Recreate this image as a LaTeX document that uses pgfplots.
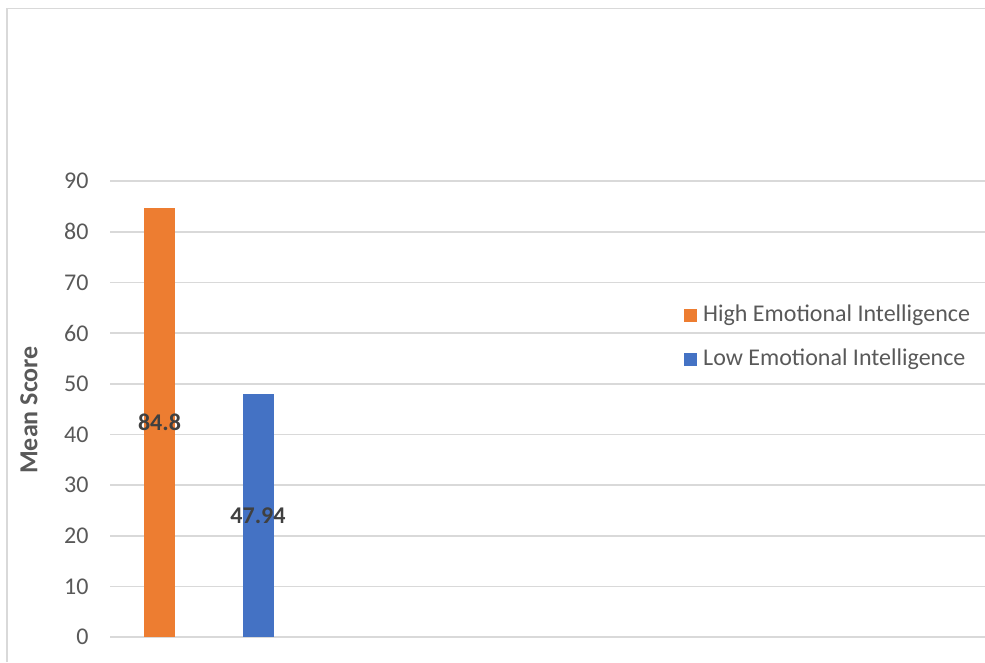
\documentclass[border=0pt]{standalone}
\usepackage{pgfplots}
\pgfplotsset{compat=1.18}
\usepackage{fontspec}
\setmainfont{Carlito}
\definecolor{eorange}{HTML}{ED7D31}
\definecolor{eblue}{HTML}{4472C4}
\definecolor{gridc}{HTML}{D9D9D9}
\definecolor{tickc}{HTML}{595959}
\definecolor{lblc}{HTML}{404040}
\begin{document}
\begin{tikzpicture}[x=1pt,y=1pt]
\path[use as bounding box] (0,0) rectangle (985,662);
\draw[gridc, line width=1.5pt] (7,0) -- (7,653.5) -- (985,653.5);
\begin{axis}[
  at={(110,49)}, anchor=south west,
  scale only axis, width=875pt, height=456pt,
  xmin=0, xmax=875, ymin=0, ymax=90,
  axis line style={draw=none},
  ytick={0,10,...,90}, xtick=\empty,
  major tick length=0pt,
  yticklabel style={text=tickc, font=\fontsize{24}{28}\selectfont, xshift=-18pt},
  /pgf/number format/assume math mode=true,
  ymajorgrids, major grid style={gridc, line width=1.4pt},
  clip=false,
  ybar, bar width=31pt, bar shift=0pt,
  point meta=explicit symbolic,
  nodes near coords={\pgfplotspointmeta},
  every node near coord/.append style={font=\fontsize{24}{28}\selectfont\bfseries, text=lblc},
]
\addplot[fill=eorange, draw=none,
  every node near coord/.append style={anchor=center, yshift=-214.8pt}]
  coordinates {(49.5,84.8) [84.8]};
\addplot[fill=eblue, draw=none,
  every node near coord/.append style={anchor=center, yshift=-121.4pt}]
  coordinates {(148,47.94) [47.94]};
\end{axis}
\node[rotate=90, font=\fontsize{26}{30}\selectfont\bfseries, text=tickc] at (29,252) {Mean Score};
\fill[eorange] (684,340) rectangle (697,353);
\node[anchor=west, text=tickc, font=\fontsize{24}{28}\selectfont, inner sep=0pt] at (703,347) {High Emotional Intelligence};
\fill[eblue] (684,296) rectangle (697,309);
\node[anchor=west, text=tickc, font=\fontsize{24}{28}\selectfont, inner sep=0pt] at (703,303) {Low Emotional Intelligence};
\end{tikzpicture}
\end{document}
